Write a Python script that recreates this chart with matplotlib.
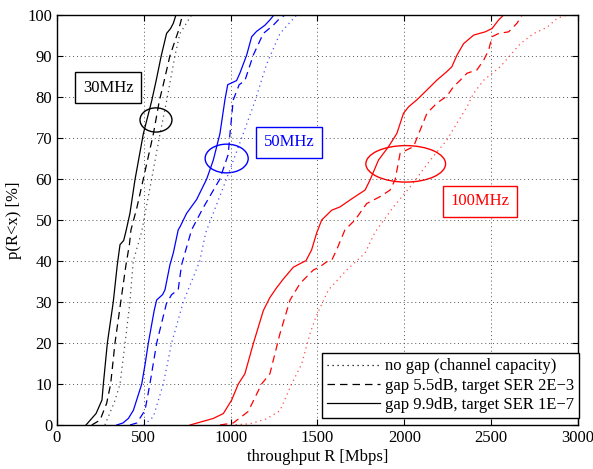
import matplotlib
matplotlib.use('Agg')
import matplotlib.pyplot as plt
from matplotlib.patches import Ellipse
from matplotlib.lines import Line2D

plt.rcParams['font.family'] = ['Liberation Serif', 'DejaVu Serif']

# throughput CDFs, R in Mbps and p in %
# 30 MHz
r30_cap = [276, 334, 363, 392, 420, 439, 487, 545, 593, 631, 679, 708, 775]
p30_cap = [0, 6, 10, 20, 30, 40, 47, 60, 71, 79, 90, 95.5, 100]
r30_g55 = [200, 248, 286, 309, 334, 367, 397, 417, 426, 460, 497, 555, 589, 612, 650, 698, 723]
p30_g55 = [0, 1.2, 5.3, 10, 20, 30, 39, 44, 47.6, 53, 60, 71, 79, 83, 90, 96, 100]
r30_g99 = [167, 225, 259, 267, 290, 324, 347, 363, 384, 399, 420, 449, 497, 545, 571, 600, 631, 654, 670, 685]
p30_g99 = [0, 2.8, 6.1, 10, 20, 30, 39, 44, 45, 47.6, 51.6, 59.8, 71, 79, 84, 90, 95.5, 96.7, 98, 100]

# 50 MHz
r50_cap = [500, 555, 612, 660, 727, 822, 857, 976, 1072, 1140, 1207, 1284, 1380]
p50_cap = [0, 2, 10, 20, 30, 40, 47, 60, 71, 79, 88, 95.5, 100]
r50_g55 = [420, 460, 507, 535, 574, 630, 660, 698, 717, 775, 842, 938, 986, 996, 1015, 1049, 1082,
           1130, 1188, 1245, 1274, 1312]
p50_g55 = [0, 0.5, 3.6, 10, 20, 29.6, 31.8, 33, 39, 47.6, 53, 60, 66, 71, 79.3, 83, 84,
           90.2, 95.5, 97.5, 98.8, 100]
r50_g99 = [344, 380, 411, 440, 488, 508, 526, 560, 574, 608, 622, 650, 670, 698, 708, 746, 804, 862,
           900, 938, 967, 983, 1034, 1053, 1092, 1121, 1149, 1197, 1226, 1249]
p50_g99 = [0, 0.5, 1.6, 3.6, 10, 15, 20, 28, 30.5, 31.8, 33, 39, 42, 47.6, 48.3, 51.6, 55, 60,
           64.6, 71, 79.3, 83, 84, 85.8, 90.2, 94.7, 96, 97.5, 98.8, 100]

# 100 MHz
r100_cap = [1000, 1111, 1207, 1284, 1351, 1409, 1457, 1491, 1562, 1668, 1773, 1831, 1937, 2034, 2149,
            2245, 2303, 2361, 2399, 2457, 2553, 2610, 2668, 2745, 2822, 2880, 2937]
p100_cap = [0, 0.3, 1.5, 3.5, 10, 14.9, 22.3, 26.4, 32.9, 37.8, 41.9, 47, 53.2, 58.1, 64.6,
            69.5, 73.6, 77.6, 80.9, 84.1, 87.4, 90.2, 93, 95.5, 97, 99.2, 100]
r100_g55 = [938, 1015, 1101, 1178, 1226, 1284, 1342, 1399, 1476, 1514, 1553, 1582, 1610,
            1658, 1716, 1783, 1860, 1918, 1947, 1976, 2053, 2091, 2130, 2187, 2245, 2283, 2322, 2361,
            2418, 2457, 2486, 2505, 2543, 2601, 2649, 2678]
p100_g55 = [0, 0.5, 3.3, 10, 12.5, 22.3, 30.5, 34.5, 37.8, 38.6, 39.8, 40.2, 42.7,
            47.6, 50, 54, 55.7, 57.3, 59.8, 66.3, 67.9, 71.9, 76, 78.5, 80.2, 82.5, 84.1, 85.8,
            86.6, 89, 91.5, 94.7, 95.5, 95.9, 98, 100]
r100_g99 = [766, 900, 958, 1006, 1044, 1082, 1130, 1188, 1226, 1265, 1303, 1361, 1434, 1466,
            1495, 1524, 1582, 1630, 1688, 1745, 1774, 1803, 1851, 1909, 1957, 1995, 2024, 2072, 2130,
            2187, 2245, 2274, 2303, 2341, 2399, 2466, 2505, 2543, 2572]
p100_g99 = [0, 1.6, 2.8, 6.1, 10, 12.5, 19.8, 27.9, 31.1, 33.5, 35.6, 38.5, 40.1, 42.7,
            46.8, 50, 52.4, 53.2, 54.9, 56.5, 57.3, 59.8, 64.6, 67.9, 71.1, 76, 77.6, 79.3, 81.7,
            84.1, 86.2, 87.4, 90.2, 93, 95.1, 95.9, 96.7, 98.8, 100]

legend_labels = ['no gap (channel capacity)', 'gap 5.5dB, target SER 2E\u22123', 'gap 9.9dB, target SER 1E\u22127']

dotted = (0, (1, 3))
dashed = (0, (6, 4))

fig = plt.figure(figsize=(5.93, 4.69), dpi=100)
ax = fig.add_axes([0.0961, 0.0938, 0.8786, 0.8742])

groups = [
    ('k', r30_cap, p30_cap, r30_g55, p30_g55, r30_g99, p30_g99),
    ('#0000ff', r50_cap, p50_cap, r50_g55, p50_g55, r50_g99, p50_g99),
    ('#ff0000', r100_cap, p100_cap, r100_g55, p100_g55, r100_g99, p100_g99),
]
for c, rc, pc, rd, pd, rs, ps in groups:
    ax.plot(rc, pc, color=c, linestyle=dotted, lw=0.9, alpha=0.7)
    ax.plot(rd, pd, color=c, linestyle=dashed, lw=0.9)
    ax.plot(rs, ps, color=c, linestyle='-', lw=0.9)

ax.set_xlim(0, 3000)
ax.set_ylim(0, 100)
ax.set_xticks(range(0, 3001, 500))
ax.set_yticks(range(0, 101, 10))
ax.grid(True, color='#555555', linestyle=(0, (1, 3)), lw=0.7)
ax.tick_params(direction='in', top=True, right=True, labelsize=12, length=4)
for s in ax.spines.values():
    s.set_linewidth(1.0)
ax.set_xlabel('throughput R [Mbps]', fontsize=12, labelpad=2)
ax.set_ylabel('p(R<x) [%]', fontsize=12, labelpad=4)

# bandwidth markers
ax.add_patch(Ellipse((570, 74.4), 184, 5.9, fill=False, edgecolor='k', lw=1.0))
ax.add_patch(Ellipse((977, 65), 248, 7.0, fill=False, edgecolor='#0000ff', lw=1.0))
ax.add_patch(Ellipse((2008, 63.7), 459, 8.9, fill=False, edgecolor='#ff0000', lw=1.0))

ax.text(294, 82.2, '30MHz', fontsize=12, color='k', ha='center', va='center',
        bbox=dict(boxstyle='square,pad=0.45', facecolor='white', edgecolor='k', lw=1.0))
ax.text(1335, 69, '50MHz', fontsize=12, color='#0000ff', ha='center', va='center',
        bbox=dict(boxstyle='square,pad=0.45', facecolor='white', edgecolor='#0000ff', lw=1.0))
ax.text(2435, 54.6, '100MHz', fontsize=12, color='#ff0000', ha='center', va='center',
        bbox=dict(boxstyle='square,pad=0.45', facecolor='white', edgecolor='#ff0000', lw=1.0))

handles = [Line2D([], [], color='k', linestyle=dotted, lw=0.9),
           Line2D([], [], color='k', linestyle=dashed, lw=0.9),
           Line2D([], [], color='k', linestyle='-', lw=0.9)]
leg = ax.legend(handles, legend_labels, loc='lower right', bbox_to_anchor=(1.002, 0.017),
                fontsize=12, handlelength=3.2, fancybox=False, framealpha=1, edgecolor='k',
                borderaxespad=0, labelspacing=0.2, borderpad=0.3, handletextpad=0.3)
leg.get_frame().set_linewidth(1.0)

fig.savefig('out.png', dpi=100)
